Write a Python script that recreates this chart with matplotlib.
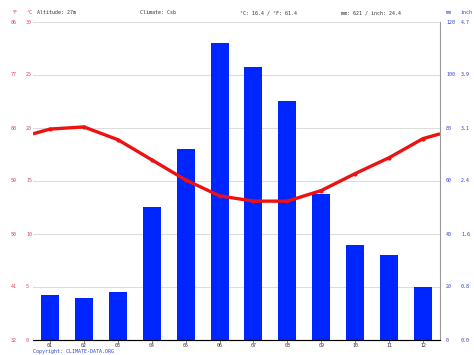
import matplotlib.pyplot as plt
import numpy as np

months = ["01", "02", "03", "04", "05", "06", "07", "08", "09", "10", "11", "12"]
precip_mm = [17, 16, 18, 50, 72, 112, 103, 90, 55, 36, 32, 20]
temp_c = [19.9, 20.1, 18.9, 17.0, 15.1, 13.6, 13.1, 13.1, 14.1, 15.7, 17.2, 19.0]

c_ticks = [0, 5, 10, 15, 20, 25, 30]
f_labels = ["32", "41", "50", "59", "68", "77", "86"]
mm_ticks = [0, 20, 40, 60, 80, 100, 120]
inch_labels = ["0.0", "0.8", "1.6", "2.4", "3.1", "3.9", "4.7"]

red_txt = "#e0405a"
blue_txt = "#3344cc"
mono = "DejaVu Sans Mono"
fs = 3.6

fig = plt.figure(figsize=(4.74, 3.55), dpi=100)
ax = fig.add_axes([33 / 474, 1 - 340 / 355, 407 / 474, 318 / 355])
ax2 = ax.twinx()

x = np.arange(len(months))
ax2.bar(x, precip_mm, width=0.53, color="#0026ff", zorder=2)
ax2.set_ylim(0, 120)
ax2.set_xlim(-0.5, 11.5)

# line runs off both edges, using the Dec/Jan midpoint
edge = (temp_c[0] + temp_c[-1]) / 2
lx = np.concatenate([[-0.5], x, [11.5]])
ly = np.concatenate([[edge], temp_c, [edge]])
ax.plot(lx, ly, color="#ee1111", lw=2.4, zorder=5, solid_capstyle="butt")
ax.plot(x, temp_c, "o", color="#ee1111", ms=2, zorder=5)
ax.set_ylim(0, 30)
ax.set_zorder(ax2.get_zorder() + 1)
ax.patch.set_visible(False)

for c in c_ticks[1:]:
    ax2.axhline(c * 4, color="#dddddd", lw=0.8, zorder=0)

for a in (ax, ax2):
    for s in ("top", "left"):
        a.spines[s].set_visible(False)
ax.spines["right"].set_visible(False)
ax2.spines["right"].set_color("#999999")
ax2.spines["bottom"].set_color("#555555")
ax2.spines["bottom"].set_linewidth(0.8)

ax.set_yticks([])
ax2.set_yticks([])
ax.set_xticks(x)
ax.set_xticklabels(months, fontsize=fs, family=mono, color="#333333")
ax.tick_params(axis="x", length=2, width=0.5, pad=0.5, color="#555555")

for c, f in zip(c_ticks, f_labels):
    yp = 1 - (340 - c * 10.6) / 355
    fig.text(11 / 474, yp, f, fontsize=fs, family=mono, color=red_txt, va="center")
    fig.text(26 / 474, yp, str(c), fontsize=fs, family=mono, color=red_txt, va="center")
for m, i in zip(mm_ticks, inch_labels):
    yp = 1 - (340 - m * 2.65) / 355
    fig.text(446 / 474, yp, str(m), fontsize=fs, family=mono, color=blue_txt, va="center")
    fig.text(461 / 474, yp, i, fontsize=fs, family=mono, color=blue_txt, va="center")

hy = 1 - 13 / 355
fig.text(11 / 474, hy, "°F", fontsize=fs, family=mono, color=red_txt, va="center")
fig.text(26 / 474, hy, "°C", fontsize=fs, family=mono, color=red_txt, va="center")
fig.text(37 / 474, hy, "Altitude: 27m", fontsize=fs, family=mono, color="#333333", va="center")
fig.text(140 / 474, hy, "Climate: Csb", fontsize=fs, family=mono, color="#333333", va="center")
fig.text(240 / 474, hy, "°C: 16.4 / °F: 61.4", fontsize=fs, family=mono, color="#333333", va="center")
fig.text(341 / 474, hy, "mm: 621 / inch: 24.4", fontsize=fs, family=mono, color="#333333", va="center")
fig.text(446 / 474, hy, "mm", fontsize=fs, family=mono, color=blue_txt, va="center")
fig.text(461 / 474, hy, "inch", fontsize=fs, family=mono, color=blue_txt, va="center")
fig.text(33 / 474, 1 - 351.5 / 355, "Copyright: CLIMATE-DATA.ORG", fontsize=fs, family=mono,
         color=blue_txt, va="center")

fig.savefig("out.png", dpi=100)
